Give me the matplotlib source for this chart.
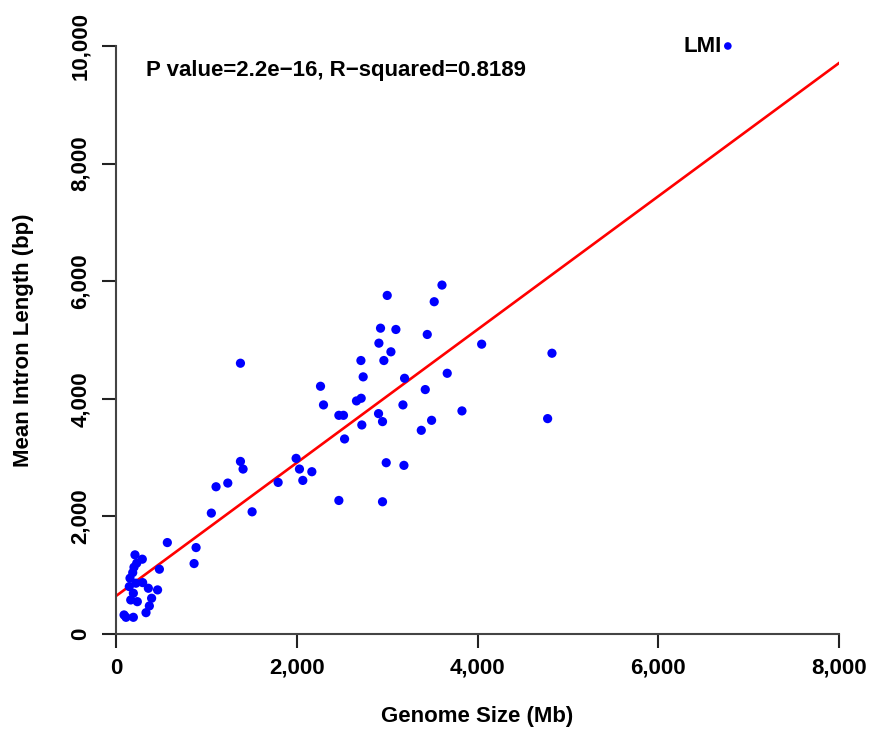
import matplotlib
matplotlib.use("Agg")
import matplotlib.pyplot as plt
import numpy as np

# genome size (Mb) vs mean intron length (bp)
genome_size = [
    89, 111, 192, 332, 369, 394, 236, 163, 192, 460, 358, 295, 221, 147,
    155, 185, 480, 199, 229, 291, 210, 568, 864, 886,
    1055, 1107, 1237, 1377, 1406, 1377, 1506, 1794,
    1993, 2030, 2167, 2067, 2263, 2296, 2466, 2517, 2466,
    2661, 2713, 2710, 2735, 2720, 2529, 2905, 2909, 2927, 2949, 2949,
    2964, 2990, 3001, 3042, 3097, 3175, 3186, 3193, 3378, 3422, 3444,
    3492, 3521, 3607, 3665, 3828, 4046, 4776, 4824,
]
intron_length = [
    324, 284, 284, 363, 477, 608, 550, 579, 693, 750, 778, 874, 864, 806,
    949, 1044, 1102, 1136, 1204, 1272, 1346, 1555, 1198, 1470,
    2056, 2504, 2567, 2935, 2805, 4605, 2078, 2578,
    2987, 2805, 2760, 2612, 4213, 3896, 3719, 3719, 2271,
    3964, 4009, 4651, 4373, 3555, 3317, 3748, 4946, 5201, 3612, 2249,
    4651, 2913, 5758, 4799, 5179, 3896, 2868, 4349, 3464, 4157, 5094,
    3634, 5651, 5934, 4434, 3794, 4929, 3663, 4775,
]
lmi_x, lmi_y = 6770, 10000

# regression line as drawn in the figure
fit_intercept = 646
fit_slope = 1.133

x_ticks = [0, 2000, 4000, 6000, 8000]
y_ticks = [0, 2000, 4000, 6000, 8000, 10000]

plt.rcParams['font.family'] = ['Liberation Sans', 'DejaVu Sans']
plt.rcParams['font.weight'] = 'bold'

fig = plt.figure(figsize=(8.75, 7.35), dpi=100)
ax = fig.add_axes([116 / 875, 101 / 735, 723 / 875, 588 / 735])

ax.axline((0, fit_intercept), slope=fit_slope, color='red', lw=1.9, zorder=2)
ax.scatter(genome_size, intron_length, s=44, color='blue', edgecolors='none',
           zorder=3, clip_on=False)
ax.scatter([lmi_x], [lmi_y], s=30, color='blue', edgecolors='none',
           zorder=3, clip_on=False)
ax.text(lmi_x - 70, lmi_y, 'LMI', ha='right', va='center', fontsize=16,
        fontweight='bold')

ax.text(330, 9580, 'P value=2.2e\u221216, R\u2212squared=0.8189', fontsize=16,
        fontweight='bold', ha='left', va='center')

ax.set_xlim(0, 8000)
ax.set_ylim(0, 10000)
ax.set_xticks(x_ticks)
ax.set_yticks(y_ticks)
ax.set_xticklabels([f'{v:,}' for v in x_ticks], fontsize=16, fontweight='bold')
ax.set_yticklabels([f'{v:,}' for v in y_ticks], fontsize=16, fontweight='bold',
                   rotation=90, va='center')

for side in ['top', 'right']:
    ax.spines[side].set_visible(False)
for side in ['left', 'bottom']:
    ax.spines[side].set_color('#444444')
    ax.spines[side].set_linewidth(1.5)
ax.tick_params(length=10, width=1.5, color='#222222')
ax.tick_params(axis='x', pad=7)
ax.tick_params(axis='y', pad=8)

ax.set_xlabel('Genome Size (Mb)', fontsize=16, fontweight='bold', labelpad=20)
ax.set_ylabel('Mean Intron Length (bp)', fontsize=16, fontweight='bold',
              labelpad=26)

fig.savefig('out.png', dpi=100, facecolor='white')
